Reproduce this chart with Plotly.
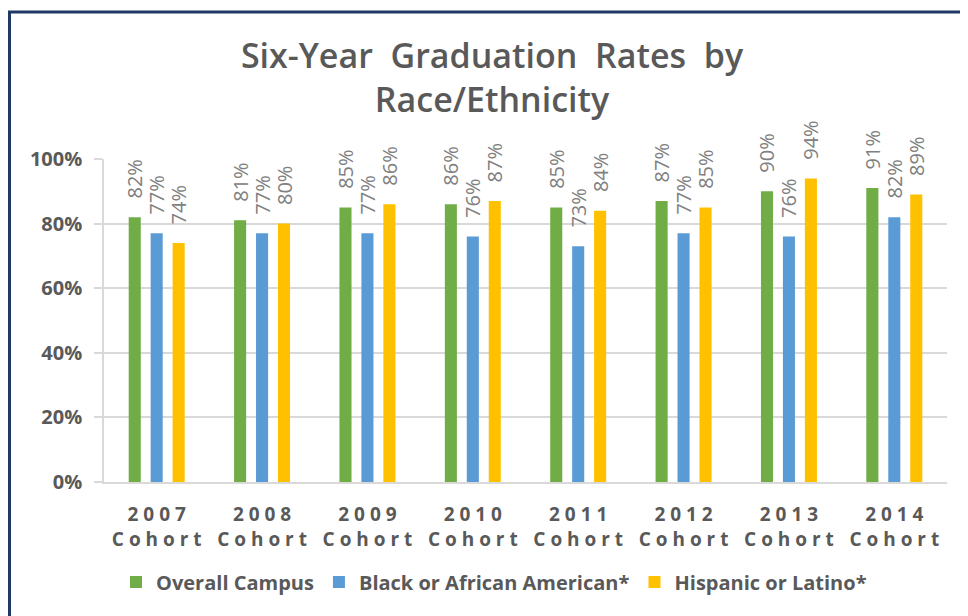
import plotly.graph_objects as go

categories = ["2007", "2008", "2009", "2010", "2011", "2012", "2013", "2014"]
overall = [82, 81, 85, 86, 85, 87, 90, 91]
black = [77, 77, 77, 76, 73, 77, 76, 82]
hispanic = [74, 80, 86, 87, 84, 85, 94, 89]
series_names = ["Overall Campus", "Black or African American*", "Hispanic or Latino*"]
colors = ["#70AD47", "#5B9BD5", "#FFC000"]
y_ticks = [0, 20, 40, 60, 80, 100]
y_tick_text = [f"{v}%" for v in y_ticks]

NB = "\u00a0"
def spaced(s):
    return NB.join(list(s))

tick_text = [spaced(c) + "<br>" + spaced("Cohort") for c in categories]

fig = go.Figure()
for name, vals, col in zip(series_names, [overall, black, hispanic], colors):
    fig.add_trace(go.Bar(
        x=categories, y=vals, name=name, marker_color=col,
        marker_line_width=0,
        text=[f"{NB*3}{v}%" for v in vals],
        textposition="outside", textangle=-90, cliponaxis=False,
        constraintext="none",
        textfont=dict(family="Open Sans", size=20, color="#808080"),
    ))

# page has an 8px body margin; figure coordinates below are page - 8
W, H = 960, 608
L, R, T, B = 96, 939, 151, 474
def px(x):
    return (x - L) / (R - L)
def py(y):
    return (B - y) / (B - T)

border = "#1F3864"
fig.update_layout(
    width=W, height=H,
    margin=dict(l=L, r=W - R, t=T, b=H - B),
    paper_bgcolor="white", plot_bgcolor="white",
    barmode="group", bargap=0.375, bargroupgap=0.45,
    title=dict(
        text="Six-Year" + NB*2 + "Graduation" + NB*2 + "Rates" + NB*2 + "by<br>Race/Ethnicity",
        x=484 / W, xanchor="center", xref="container",
        y=1 - 60 / H, yanchor="top", yref="container",
        font=dict(family="Open Sans", size=34, color="#595959", weight=600),
    ),
    font=dict(family="Open Sans", color="#595959"),
    showlegend=True,
    legend=dict(
        orientation="h", x=px(486), xanchor="center", y=py(574), yanchor="middle",
        font=dict(family="Open Sans", size=20, color="#595959", weight="bold"),
        itemwidth=30, traceorder="normal",
    ),
    xaxis=dict(
        tickmode="array", tickvals=categories, ticktext=tick_text,
        tickfont=dict(family="Open Sans", size=19, color="#595959", weight="bold"),
        showline=True, linecolor="#D9D9D9", linewidth=2,
        ticks="", ticklabelstandoff=14,
    ),
    yaxis=dict(
        range=[0, 100], tickmode="array", tickvals=y_ticks, ticktext=y_tick_text,
        tickfont=dict(family="Open Sans", size=20, color="#595959", weight="bold"),
        showgrid=True, gridcolor="#D9D9D9", gridwidth=1.5,
        showline=True, linecolor="#D9D9D9", linewidth=1.5,
        ticks="outside", ticklen=8, tickcolor="#D9D9D9", tickwidth=1.5,
        ticklabelstandoff=8, zeroline=False,
    ),
    shapes=[
        dict(type="line", xref="paper", yref="paper", x0=px(1.5), x1=px(1.5), y0=py(3), y1=py(620),
             line=dict(color=border, width=3)),
        dict(type="line", xref="paper", yref="paper", x0=px(0), x1=px(975), y0=py(4), y1=py(4),
             line=dict(color=border, width=3)),
    ],
)

fig.write_html("out.html")
